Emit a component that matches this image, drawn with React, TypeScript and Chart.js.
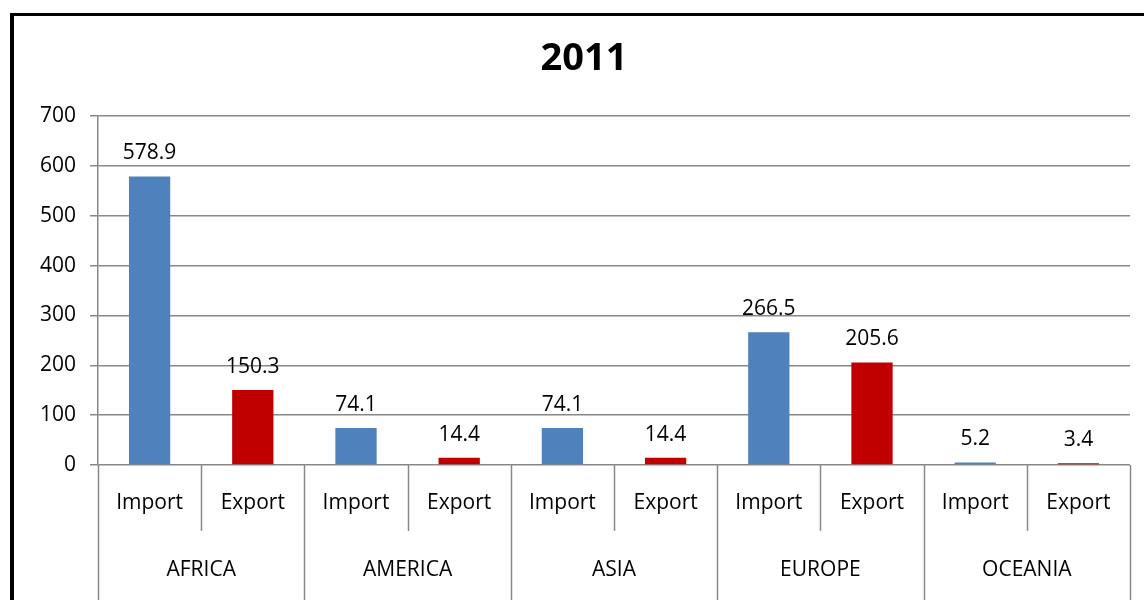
import React, { useEffect, useRef } from "react";
import { Chart, registerables } from "chart.js";

Chart.register(...registerables);

const title = "2011";
const groups = ["AFRICA", "AMERICA", "ASIA", "EUROPE", "OCEANIA"];
const flows = ["Import", "Export"];
const importValues = [578.9, 74.1, 74.1, 266.5, 5.2];
const exportValues = [150.3, 14.4, 14.4, 205.6, 3.4];
const yTicks = [0, 100, 200, 300, 400, 500, 600, 700];

const BLUE = "#4F81BD";
const RED = "#C00000";
const FONT = "'Open Sans', 'Noto Sans', sans-serif";

export default function App() {
  const ref = useRef<HTMLCanvasElement | null>(null);

  useEffect(() => {
    document.body.style.margin = "0";
    const labels: string[] = [];
    const values: number[] = [];
    const colors: string[] = [];
    groups.forEach((g, i) => {
      labels.push(g + " " + flows[0]);
      values.push(importValues[i]);
      colors.push(BLUE);
      labels.push(g + " " + flows[1]);
      values.push(exportValues[i]);
      colors.push(RED);
    });

    const decor = {
      id: "decor",
      beforeDraw(chart: any) {
        const ctx = chart.ctx;
        ctx.save();
        ctx.fillStyle = "#fff";
        ctx.fillRect(0, 0, chart.width, chart.height);
        ctx.restore();
      },
      afterDraw(chart: any) {
        const ctx = chart.ctx;
        const area = chart.chartArea;
        const x = chart.scales.x;
        const n = labels.length;
        ctx.save();
        // frame
        ctx.fillStyle = "#000";
        ctx.fillRect(10, 13, 4, chart.height - 13);
        ctx.fillRect(10, 13, chart.width - 10, 3);
        // title
        ctx.fillStyle = "#000";
        ctx.font = "bold 38px " + FONT;
        ctx.textAlign = "center";
        ctx.textBaseline = "middle";
        ctx.fillText(title, 584, 59);
        // data labels
        const meta = chart.getDatasetMeta(0);
        ctx.font = "21px " + FONT;
        ctx.textBaseline = "middle";
        meta.data.forEach((bar: any, i: number) => {
          ctx.fillText(String(values[i]), bar.x, bar.y - 23);
        });
        // category axis
        const step = (area.right - area.left) / n;
        ctx.strokeStyle = "#888";
        ctx.lineWidth = 1.5;
        for (let i = 0; i <= n; i++) {
          const px = Math.round(area.left + step * i) + 0.5;
          const isGroup = i % 2 === 0;
          ctx.beginPath();
          ctx.moveTo(px, area.bottom);
          ctx.lineTo(px, isGroup ? chart.height : area.bottom + 66);
          ctx.stroke();
        }
        ctx.fillStyle = "#000";
        ctx.font = "21px " + FONT;
        for (let i = 0; i < n; i++) {
          const cx = x.getPixelForValue(i);
          ctx.fillText(flows[i % 2], cx, 503);
        }
        groups.forEach((g, gi) => {
          const cx = area.left + step * (gi * 2 + 1);
          ctx.fillText(g, cx, 570);
        });
        ctx.restore();
      },
    };

    const chart = new Chart(ref.current!, {
      type: "bar",
      data: {
        labels,
        datasets: [
          {
            data: values,
            backgroundColor: colors,
            categoryPercentage: 1,
            barPercentage: 0.4,
          },
        ],
      },
      options: {
        animation: false,
        responsive: false,
        maintainAspectRatio: false,
        layout: { padding: { left: 0, right: 14, top: 116, bottom: 135 } },
        plugins: {
          legend: { display: false },
          title: { display: false },
          tooltip: { enabled: false },
        },
        scales: {
          x: { display: false },
          y: {
            min: 0,
            max: 700,
            afterFit(scale: any) {
              scale.width = 98;
            },
            afterBuildTicks(scale: any) {
              scale.ticks = yTicks.map((v) => ({ value: v }));
            },
            ticks: {
              color: "#000",
              font: { family: FONT, size: 21 },
              padding: 14,
            },
            grid: {
              color: "#888",
              lineWidth: 1.5,
              tickLength: 8,
            },
            border: { color: "#888", width: 1.5 },
          },
        },
      },
      plugins: [decor],
    });
    return () => chart.destroy();
  }, []);

  return <canvas ref={ref} width={1144} height={600} style={{ display: "block" }} />;
}
